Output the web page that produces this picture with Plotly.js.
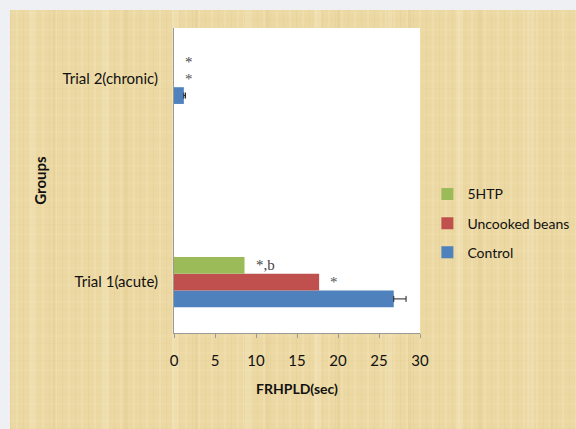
<!DOCTYPE html>
<html>
<head>
<meta charset="utf-8">
<script src="https://cdn.plot.ly/plotly-3.0.1.min.js"></script>
<style>
  html, body { margin: 0; padding: 0; background: #eef0f3; }
  #wrap { position: relative; width: 576px; height: 429px; overflow: hidden; }
  #paper {
    position: absolute; left: 10px; top: 10px; width: 566px; height: 419px;
    background:
      repeating-linear-gradient(90deg, rgba(190,150,80,0.07) 0 1px, rgba(0,0,0,0) 1px 6px, rgba(255,248,225,0.14) 6px 8px, rgba(0,0,0,0) 8px 13px),
      repeating-linear-gradient(90deg, rgba(0,0,0,0) 0 20px, rgba(255,248,225,0.18) 20px 27px, rgba(0,0,0,0) 27px 43px, rgba(190,150,80,0.08) 43px 46px, rgba(0,0,0,0) 46px 71px),
      repeating-linear-gradient(0deg, rgba(190,150,80,0.04) 0 1px, rgba(0,0,0,0) 1px 7px, rgba(255,248,225,0.07) 7px 9px, rgba(0,0,0,0) 9px 17px),
      #ecd8a2;
  }
  #chart { position: absolute; left: 0; top: 0; width: 576px; height: 429px; }
</style>
</head>
<body>
<div id="wrap">
  <div id="paper"></div>
  <div id="chart"></div>
</div>
<script>
// ---- data ----
const groups = ["Trial 1(acute)", "Trial 2(chronic)"];
const seriesNames = ["Control", "Uncooked beans", "5HTP"];
const controlValues = [26.8, 1.2];
const controlErrors = [1.5, 0.2];
const beansValues = [17.7, 0];
const htpValues = [8.6, 0];
const beansMarks = ["*", "*"];
const htpMarks = ["*,b", "*"];
const xTicks = [0, 5, 10, 15, 20, 25, 30];

const colors = { "Control": "#4f81bd", "Uncooked beans": "#c0504d", "5HTP": "#9bbb59" };
const FONT = "Lato, 'Open Sans', sans-serif";

const traces = [
  {
    type: "bar", orientation: "h", name: seriesNames[0], legendgroup: "c", legendrank: 3,
    y: groups, x: controlValues,
    marker: { color: colors["Control"] },
    error_x: { type: "data", symmetric: false, array: controlErrors, arrayminus: controlErrors.map(() => 0),
               visible: true, color: "#222", thickness: 1, width: 3 }
  },
  {
    type: "bar", orientation: "h", name: seriesNames[1], legendgroup: "b", legendrank: 2,
    y: groups, x: beansValues,
    marker: { color: colors["Uncooked beans"] }
  },
  {
    type: "bar", orientation: "h", name: seriesNames[2], legendgroup: "h", legendrank: 1,
    y: groups, x: htpValues,
    marker: { color: colors["5HTP"] }
  }
];

// significance marks placed at bar ends
const annotations = [];
groups.forEach((g, i) => {
  annotations.push({
    x: htpValues[i], y: g, xref: "x", yref: "y", text: htpMarks[i],
    showarrow: false, xanchor: "left", yanchor: "middle", xshift: 9, yshift: 17,
    font: { family: "'Liberation Serif', serif", size: 15, color: "#444" }
  });
  annotations.push({
    x: beansValues[i], y: g, xref: "x", yref: "y", text: beansMarks[i],
    showarrow: false, xanchor: "left", yanchor: "middle", xshift: 9, yshift: 0,
    font: { family: "'Liberation Serif', serif", size: 15, color: "#555" }
  });
});

const layout = {
  width: 576, height: 429,
  margin: { l: 174, r: 156, t: 28, b: 96, autoexpand: false },
  paper_bgcolor: "rgba(0,0,0,0)",
  plot_bgcolor: "#ffffff",
  barmode: "group",
  bargap: 0.753,
  bargroupgap: 0,
  font: { family: FONT, size: 14, color: "#111" },
  showlegend: true,
  legend: {
    x: 1.03, xanchor: "left", y: 0.507, yanchor: "top",
    traceorder: "grouped", tracegroupgap: 8,
    bgcolor: "rgba(0,0,0,0)", font: { family: FONT, size: 14, color: "#111" },
    itemwidth: 30
  },
  xaxis: {
    range: [0, 30], tickvals: xTicks, ticktext: xTicks.map(String),
    showgrid: false, zeroline: false,
    showline: true, linecolor: "#9a9a9a", linewidth: 1,
    ticks: "outside", ticklen: 4, tickcolor: "#9a9a9a",
    ticklabelstandoff: 10,
    tickfont: { family: FONT, size: 15, color: "#111" },
    title: { text: "<b>FRHPLD(sec)</b>", font: { family: FONT, size: 14, color: "#111" }, standoff: 16 },
    automargin: false, fixedrange: true
  },
  yaxis: {
    type: "category", categoryorder: "array", categoryarray: groups,
    range: [-0.25, 1.25],
    showgrid: false, zeroline: false,
    showline: true, linecolor: "#9a9a9a", linewidth: 1,
    ticks: "", ticklabelstandoff: 12,
    tickfont: { family: FONT, size: 15, color: "#111" },
    title: { text: "<b>Groups</b>", font: { family: FONT, size: 15, color: "#111" }, standoff: 12 },
    automargin: false, fixedrange: true
  },
  annotations: annotations
};

Plotly.newPlot("chart", traces, layout, { displayModeBar: false, staticPlot: true });
</script>
</body>
</html>
